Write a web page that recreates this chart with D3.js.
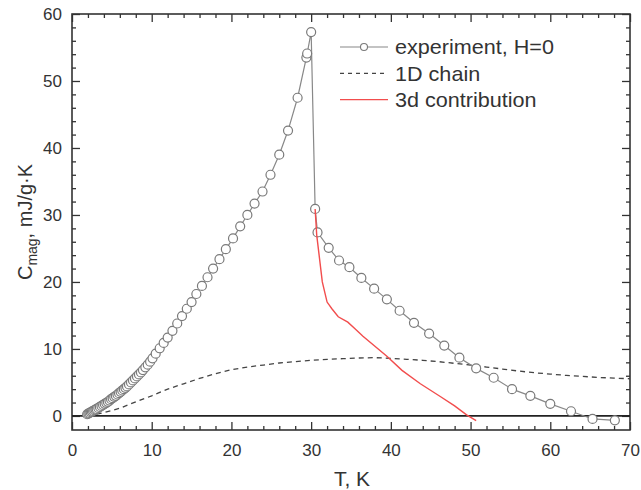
<!DOCTYPE html>
<html>
<head>
<meta charset="utf-8">
<script src="https://cdn.jsdelivr.net/npm/d3@7"></script>
<style>
  body { margin: 0; background: #fff; }
  text { font-family: "Liberation Sans", Arial, sans-serif; fill: #333; }
</style>
</head>
<body>
<svg id="chart" width="641" height="490"></svg>
<script>
// experiment, H=0 (T in K, C in mJ/g.K)
var expT = [1.9, 2.05, 2.2, 2.35, 2.5, 2.65, 2.8, 2.95, 3.1, 3.3, 3.5, 3.7, 3.9, 4.1, 4.3, 4.5, 4.7, 4.9,
  5.1, 5.3, 5.5, 5.7, 5.9, 6.1, 6.3, 6.5, 6.7, 6.9, 7.15, 7.4, 7.65, 7.9, 8.15, 8.4, 8.65, 8.9, 9.2, 9.5,
  9.8, 10.1, 10.5, 11.0, 11.5, 12.0, 12.6, 13.2, 13.8, 14.4, 15.0, 15.6, 16.3, 17.0, 17.7, 18.5, 19.3,
  20.2, 21.1, 22.0, 22.9, 23.9, 24.9, 26.0, 27.1, 28.3, 29.4, 29.5, 30.0,
  30.5, 30.8, 32.2, 33.5, 34.8, 36.3, 37.9, 39.5, 41.1, 42.9, 44.8, 46.7, 48.6, 50.7, 52.9, 55.2,
  57.5, 60.0, 62.6, 65.3, 68.1];
var expC = [0.25, 0.35, 0.45, 0.55, 0.65, 0.75, 0.85, 0.95, 1.05, 1.2, 1.35, 1.5, 1.65, 1.8, 1.95, 2.1, 2.3, 2.5,
  2.65, 2.85, 3.0, 3.2, 3.4, 3.6, 3.8, 4.0, 4.2, 4.4, 4.7, 5.0, 5.3, 5.6, 5.9, 6.2, 6.5, 6.85, 7.25, 7.65,
  8.1, 8.6, 9.3, 10.1, 10.9, 11.7, 12.7, 13.8, 14.9, 16.0, 17.0, 18.2, 19.4, 20.7, 22.0, 23.4, 24.9,
  26.5, 28.3, 30.0, 31.7, 33.5, 36.0, 39.0, 42.6, 47.5, 53.5, 54.1, 57.3,
  30.9, 27.4, 25.1, 23.2, 22.2, 20.6, 19.0, 17.4, 15.7, 13.9, 12.3, 10.5, 8.7, 7.1, 5.7, 4.0,
  3.0, 1.8, 0.7, -0.45, -0.65];

// 1D chain
var chainT = [2, 3, 4, 6, 8, 10, 12, 14, 16, 18, 20, 22, 24, 26, 28, 30, 32, 34, 36, 38, 40, 42, 44, 46,
  48, 50, 52, 54, 56, 58, 60, 62, 64, 66, 68, 70];
var chainC = [0, 0.25, 0.5, 1.15, 2.1, 3.0, 4.0, 4.8, 5.6, 6.3, 6.9, 7.3, 7.6, 7.9, 8.1, 8.3, 8.45, 8.55,
  8.65, 8.7, 8.6, 8.45, 8.3, 8.1, 7.85, 7.6, 7.3, 7.0, 6.7, 6.45, 6.25, 6.05, 5.9, 5.75, 5.65, 5.55];

// 3d contribution
var d3T = [30.5, 30.7, 31.0, 31.4, 32.0, 32.6, 33.4, 34.6, 35.5, 36.5, 38.0, 39.5, 41.4, 43.7, 46.2, 48.0, 49.5, 50.7];
var d3C = [30.9, 27.0, 24.0, 20.0, 17.0, 16.0, 14.8, 14.0, 13.0, 11.9, 10.4, 8.9, 6.8, 4.8, 2.9, 1.5, 0.15, -0.7];

var xTicks = [0, 10, 20, 30, 40, 50, 60, 70];
var yTicks = [0, 10, 20, 30, 40, 50, 60];
var legendLabels = ["experiment, H=0", "1D chain", "3d contribution"];

var margin = {top: 14, right: 11, bottom: 60, left: 72},
    width = 641 - margin.left - margin.right,
    height = 490 - margin.top - margin.bottom;

var svg = d3.select("#chart");
var g = svg.append("g").attr("transform", "translate(" + margin.left + "," + margin.top + ")");

var x = d3.scaleLinear().domain([0, 70]).range([0, width]);
var y = d3.scaleLinear().domain([-2.1, 60]).range([height, 0]);

var axisColor = "#333";

// ticks: all four sides, pointing inward
function tickAxis(axisFn, scale, major, tr) {
  var minor = d3.range(scale.domain()[0] < 0 ? 0 : scale.domain()[0], scale.domain()[1] + 0.01, 2)
    .filter(function(v) { return v % 10 != 0; });
  g.append("g").attr("transform", tr)
    .call(axisFn(scale).tickValues(minor).tickSize(-4).tickFormat(""))
    .call(function(s) { s.select(".domain").remove(); s.selectAll("line").attr("stroke", axisColor).attr("stroke-width", 1.3); });
  return g.append("g").attr("transform", tr)
    .call(axisFn(scale).tickValues(major).tickSize(-8).tickPadding(10).tickFormat(d3.format("d")))
    .call(function(s) {
      s.select(".domain").remove();
      s.selectAll("line").attr("stroke", axisColor).attr("stroke-width", 1.3);
      s.selectAll("text").style("font-size", "17px").style("font-family", "'Liberation Sans', Arial, sans-serif").attr("fill", "#333");
    });
}

var xb = tickAxis(d3.axisBottom, x, xTicks, "translate(0," + height + ")");
xb.selectAll("text").attr("dy", "0.95em");
var xt = tickAxis(d3.axisTop, x, xTicks, "translate(0,0)");
xt.selectAll("text").remove();
tickAxis(d3.axisLeft, y, yTicks, "translate(0,0)");
var yr = tickAxis(d3.axisRight, y, yTicks, "translate(" + width + ",0)");
yr.selectAll("text").remove();

// frame
g.append("rect").attr("width", width).attr("height", height)
  .attr("fill", "none").attr("stroke", axisColor).attr("stroke-width", 1.6);

// zero line
g.append("line").attr("x1", 0).attr("x2", width).attr("y1", y(0)).attr("y2", y(0))
  .attr("stroke", "#222").attr("stroke-width", 1.8);

var clip = g.append("clipPath").attr("id", "clip").append("rect").attr("width", width).attr("height", height);
var plot = g.append("g").attr("clip-path", "url(#clip)");

var line = d3.line().x(function(d) { return x(d[0]); }).y(function(d) { return y(d[1]); });

var chainData = chainT.map(function(t, i) { return [t, chainC[i]]; });
var expData = expT.map(function(t, i) { return [t, expC[i]]; });
var d3Data = d3T.map(function(t, i) { return [t, d3C[i]]; });

plot.append("path").datum(chainData).attr("d", line)
  .attr("fill", "none").attr("stroke", "#444").attr("stroke-width", 1.3).attr("stroke-dasharray", "5,4");

plot.append("path").datum(expData).attr("d", line)
  .attr("fill", "none").attr("stroke", "#888").attr("stroke-width", 1.2);

plot.selectAll(".pt").data(expData).enter().append("circle")
  .attr("class", "pt")
  .attr("cx", function(d) { return x(d[0]); })
  .attr("cy", function(d) { return y(d[1]); })
  .attr("r", 4.5)
  .attr("fill", "#fff").attr("stroke", "#7a7a7a").attr("stroke-width", 1.2);

plot.append("path").datum(d3Data).attr("d", line)
  .attr("fill", "none").attr("stroke", "#f24d4d").attr("stroke-width", 1.4);

// legend
var lg = g.append("g").attr("transform", "translate(" + (340 - margin.left) + "," + (47 - margin.top) + ")");
var styles = [
  {stroke: "#888", dash: null, width: 1.2},
  {stroke: "#444", dash: "4,4", width: 1.2},
  {stroke: "#f24d4d", dash: null, width: 1.4}
];
legendLabels.forEach(function(lab, i) {
  var row = lg.append("g").attr("transform", "translate(0," + (i * 26.3) + ")");
  row.append("line").attr("x1", 0).attr("x2", 48).attr("y1", 0).attr("y2", 0)
    .attr("stroke", styles[i].stroke).attr("stroke-width", styles[i].width)
    .attr("stroke-dasharray", styles[i].dash);
  if (i == 0)
    row.append("circle").attr("cx", 24).attr("cy", 0).attr("r", 3.5)
      .attr("fill", "#fff").attr("stroke", "#7a7a7a").attr("stroke-width", 1.1);
  row.append("text").attr("transform", "translate(55,0) scale(1.08,1)").attr("dy", "0.36em")
    .style("font-size", "20px").text(lab);
});

// axis titles
svg.append("text").attr("x", 352).attr("y", 486)
  .attr("text-anchor", "middle").style("font-size", "21px").text("T, K");

var yt = svg.append("text").attr("transform", "translate(32,222) rotate(-90)")
  .attr("text-anchor", "middle").style("font-size", "20px");
yt.append("tspan").text("C");
yt.append("tspan").attr("dy", 5).style("font-size", "14px").text("mag");
yt.append("tspan").attr("dy", -5).text(", mJ/g\u00b7K");
</script>
</body>
</html>
